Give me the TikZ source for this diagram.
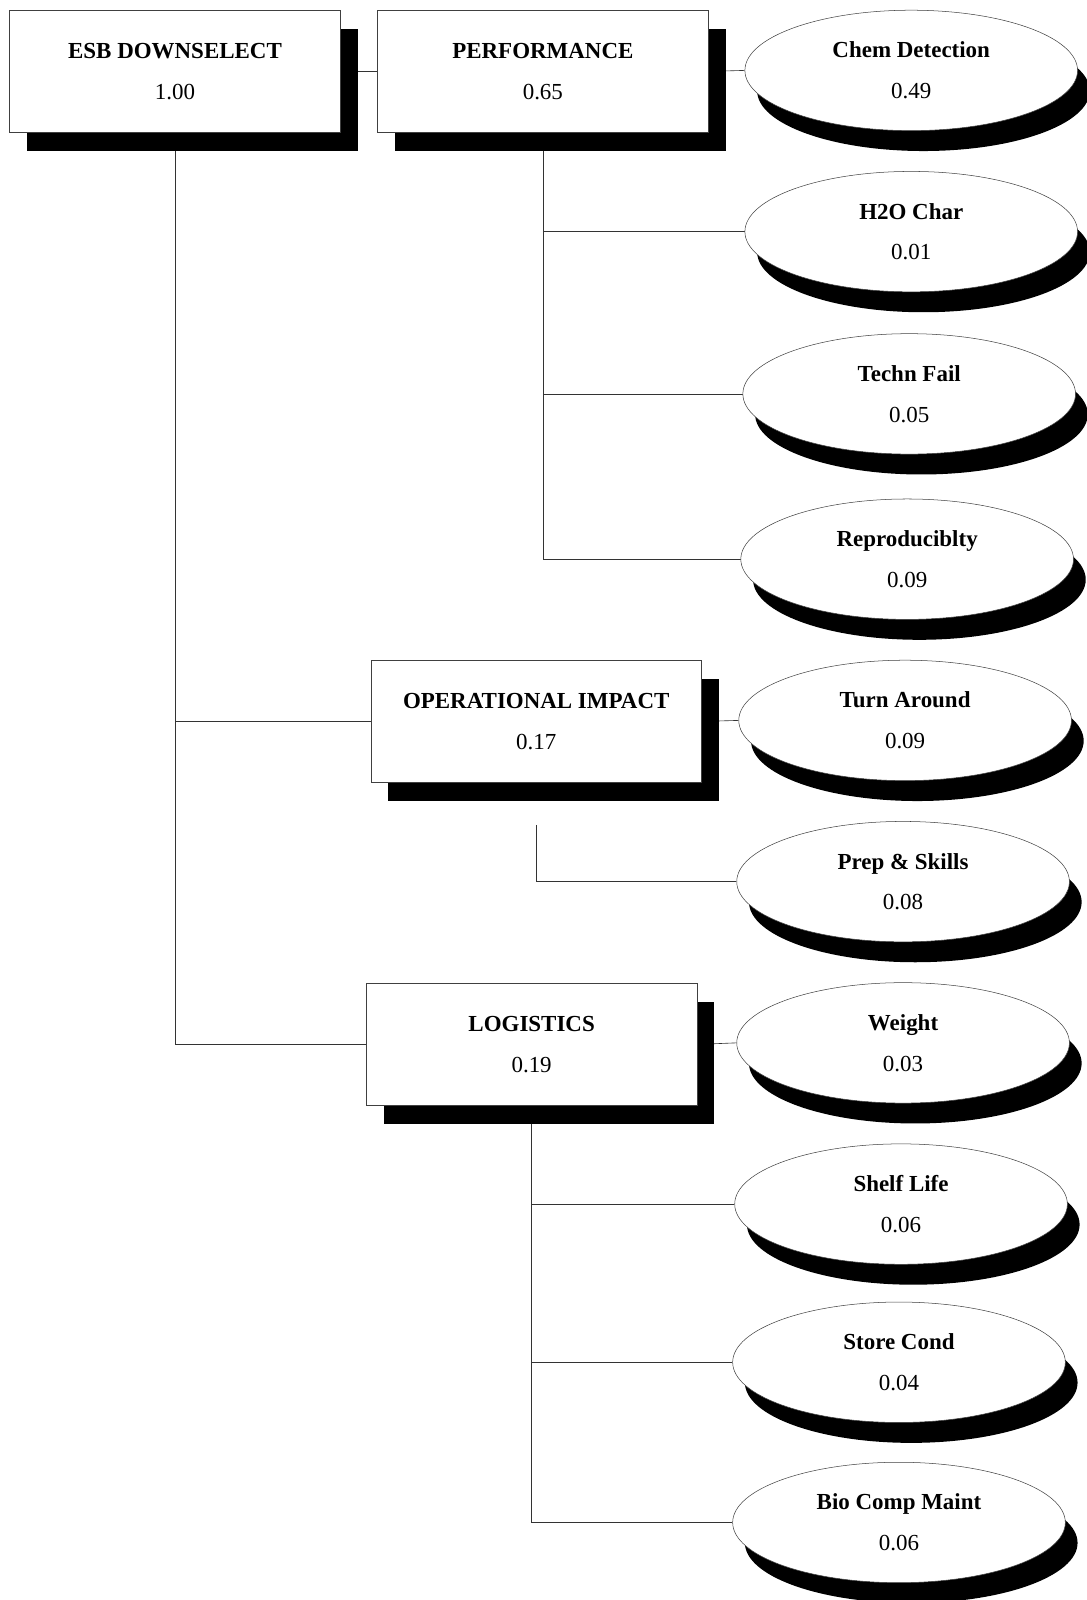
\documentclass[tikz,border=0pt]{standalone}
\usepackage{fontspec}
\setmainfont{Liberation Serif}
\usetikzlibrary{shapes.geometric,shadows,backgrounds}
\tikzset{
  boxnode/.style={draw=black!75, line width=0.5pt, fill=white, rectangle,
    minimum width=324pt, minimum height=120pt, inner sep=0pt, align=center,
    font=\fontsize{22.5}{40}\selectfont,
    drop shadow={shadow xshift=17pt, shadow yshift=-18pt, fill=black, opacity=1}},
  ellnode/.style={draw=black!75, line width=0.5pt, fill=white, ellipse,
    minimum width=326pt, minimum height=118pt, inner sep=0pt, align=center,
    font=\fontsize{22.5}{40}\selectfont,
    drop shadow={shadow xshift=12pt, shadow yshift=-20pt, fill=black, opacity=1}},
  link/.style={draw=black!80, line width=0.6pt}
}
\begin{document}
\begin{tikzpicture}[x=1pt,y=-1pt]
\useasboundingbox (0,0) rectangle (1065,1568);
\clip (0,0) rectangle (1065,1568);
% boxes
\node[boxnode] (esb)  at (171.5,70)  {\textbf{ESB DOWNSELECT}\\1.00};
\node[boxnode] (perf) at (532,70)    {\textbf{PERFORMANCE}\\0.65};
\node[boxnode] (op)   at (525.5,707) {\textbf{OPERATIONAL IMPACT}\\0.17};
\node[boxnode] (log)  at (521,1023.5){\textbf{LOGISTICS}\\0.19};
% ellipses
\node[ellnode] (chem)   at (893,69)   {\textbf{Chem Detection}\\0.49};
\node[ellnode] (h2o)    at (893,227)  {\textbf{H2O Char}\\0.01};
\node[ellnode] (techn)  at (891,386)  {\textbf{Techn Fail}\\0.05};
\node[ellnode] (repro)  at (889,548)  {\textbf{Reproduciblty}\\0.09};
\node[ellnode] (turn)   at (887,706)  {\textbf{Turn Around}\\0.09};
\node[ellnode] (prep)   at (885,864)  {\textbf{Prep \& Skills}\\0.08};
\node[ellnode] (weight) at (885,1022) {\textbf{Weight}\\0.03};
\node[ellnode] (shelf)  at (883,1180) {\textbf{Shelf Life}\\0.06};
\node[ellnode] (store)  at (881,1335) {\textbf{Store Cond}\\0.04};
\node[ellnode] (bio)    at (881,1492) {\textbf{Bio Comp Maint}\\0.06};
% connectors
\begin{pgfonlayer}{background}
\draw[link] (esb.east) -- (perf.west);
\draw[link] (perf.east) -- (chem.west);
\draw[link] (perf.south) |- (repro.west);
\draw[link] (perf.south |- h2o.west) -- (h2o.west);
\draw[link] (perf.south |- techn.west) -- (techn.west);
\draw[link] (esb.south) |- (log.west);
\draw[link] (esb.south |- op.west) -- (op.west);
\draw[link] (op.east) -- (turn.west);
\draw[link] ([yshift=-41pt]op.south) |- (prep.west);
\draw[link] (log.east) -- (weight.west);
\draw[link] (log.south) |- (bio.west);
\draw[link] (log.south |- shelf.west) -- (shelf.west);
\draw[link] (log.south |- store.west) -- (store.west);
\end{pgfonlayer}
\end{tikzpicture}
\end{document}
